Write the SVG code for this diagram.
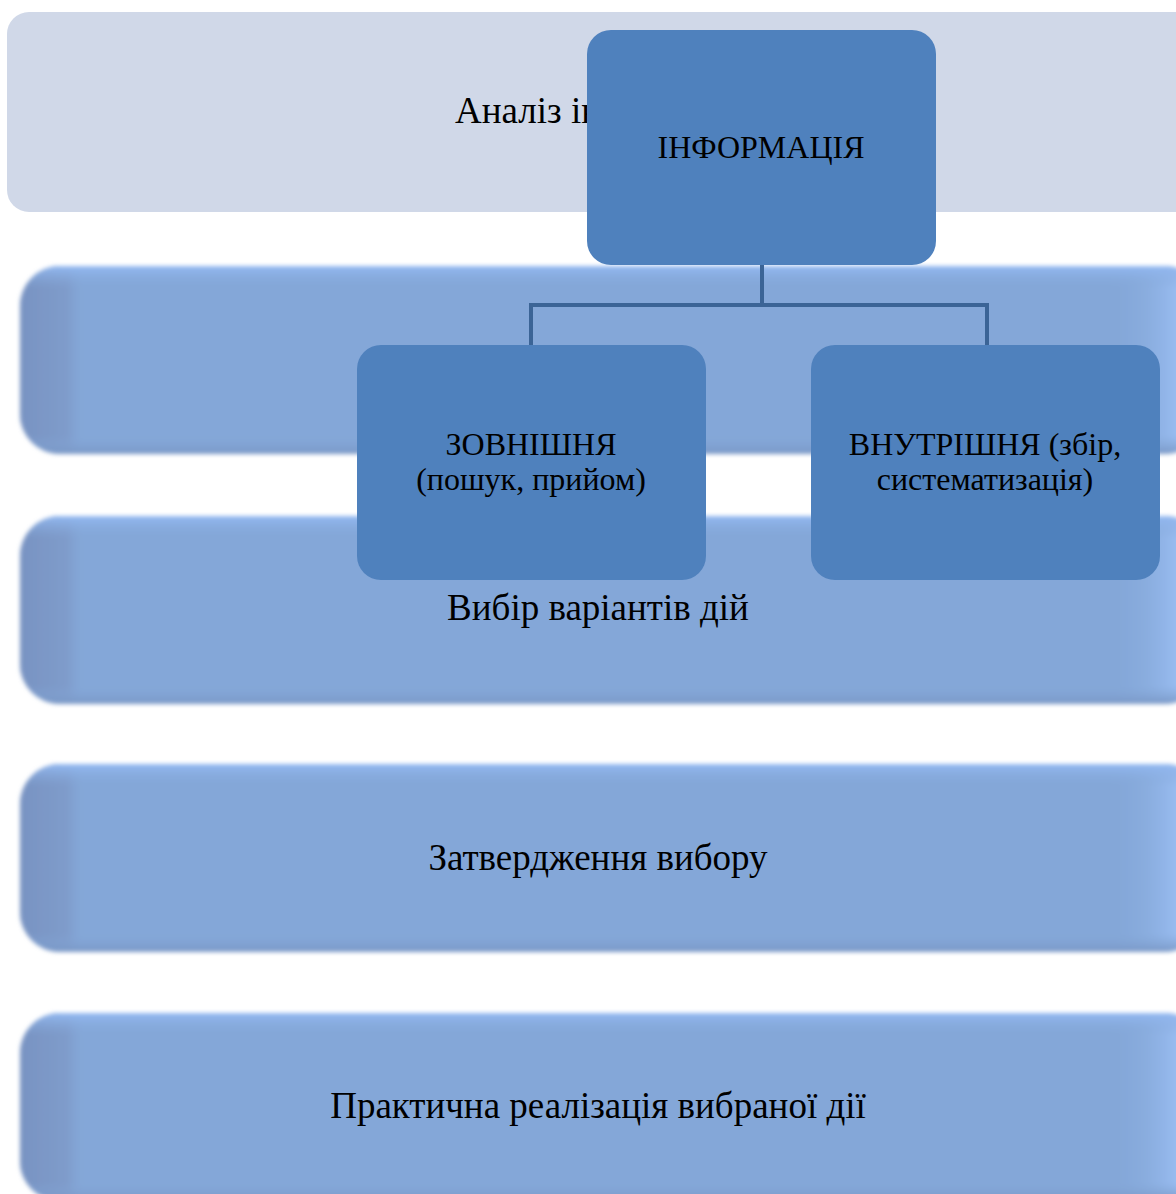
<svg xmlns="http://www.w3.org/2000/svg" width="1176" height="1194" viewBox="0 0 1176 1194">
<defs>
<style>
.t{font-family:"Liberation Serif","Times New Roman",serif;fill:#000}
.band{font-size:37px}
.nt{font-size:32px}
.node{fill:#4f81bd}
.conn{fill:none;stroke:#3b6496;stroke-width:4}
</style>
<filter id="soft" x="-5%" y="-10%" width="110%" height="120%"><feGaussianBlur stdDeviation="2"/></filter>
<linearGradient id="top" x1="0" y1="0" x2="0" y2="1">
<stop offset="0" stop-color="#93b9f2"/><stop offset="0.12" stop-color="#84a7d8" stop-opacity="0"/><stop offset="0.9" stop-color="#84a7d8" stop-opacity="0"/><stop offset="1" stop-color="#7a98c6"/>
</linearGradient>
<linearGradient id="side" x1="0" y1="0" x2="1" y2="0">
<stop offset="0" stop-color="#7893c2"/><stop offset="0.04" stop-color="#7f9ccb"/><stop offset="0.055" stop-color="#84a7d8" stop-opacity="0"/><stop offset="0.92" stop-color="#84a7d8" stop-opacity="0"/><stop offset="0.985" stop-color="#9fc3f8"/><stop offset="1" stop-color="#9fc3f8"/>
</linearGradient>
<g id="bandshape">
<rect x="20" y="0" width="1185" height="188" rx="40" fill="#84a7d8"/>
<rect x="20" y="0" width="1185" height="188" rx="40" fill="url(#side)"/>
<rect x="20" y="0" width="1185" height="188" rx="40" fill="url(#top)"/>
</g>
</defs>
<g id="band1">
<rect x="7" y="12" width="1200" height="200" rx="22" fill="#d0d8e8"/>
<text class="t band" x="455" y="123">Аналіз ін</text>
</g>
<g id="band2" filter="url(#soft)"><use href="#bandshape" y="266"/></g>
<g id="band3">
<g filter="url(#soft)"><use href="#bandshape" y="516"/></g>
<text class="t band" x="598" y="620" text-anchor="middle">Вибір варіантів дій</text>
</g>
<g id="band4">
<g filter="url(#soft)"><use href="#bandshape" y="764"/></g>
<text class="t band" x="598" y="870" text-anchor="middle">Затвердження вибору</text>
</g>
<g id="band5">
<g filter="url(#soft)"><use href="#bandshape" y="1013"/></g>
<text class="t band" x="598" y="1118" text-anchor="middle">Практична реалізація вибраної дії</text>
</g>
<g id="connectors">
<path class="conn" d="M762 264V305M531 345V305H987V345"/>
</g>
<g id="info">
<rect class="node" x="587" y="30" width="349" height="235" rx="24"/>
<text class="t nt" x="761" y="158" text-anchor="middle">ІНФОРМАЦІЯ</text>
</g>
<g id="external">
<rect class="node" x="357" y="345" width="349" height="235" rx="24"/>
<text class="t nt" x="531" y="455" text-anchor="middle">ЗОВНІШНЯ</text>
<text class="t nt" x="531" y="490" text-anchor="middle">(пошук, прийом)</text>
</g>
<g id="internal">
<rect class="node" x="811" y="345" width="349" height="235" rx="24"/>
<text class="t nt" x="985" y="455" text-anchor="middle">ВНУТРІШНЯ (збір,</text>
<text class="t nt" x="985" y="490" text-anchor="middle">систематизація)</text>
</g>
</svg>
